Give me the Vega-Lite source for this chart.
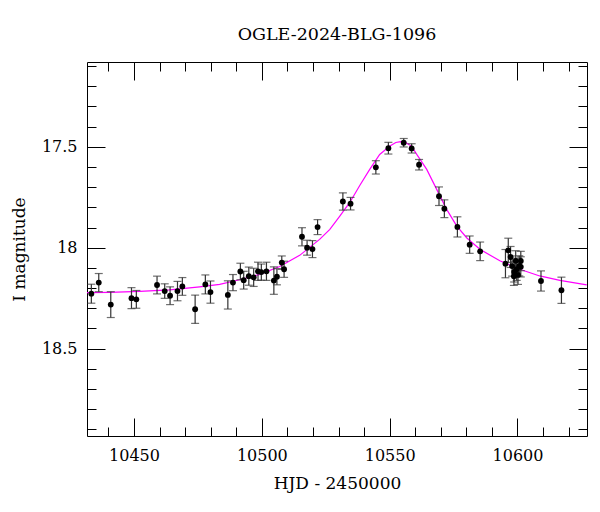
{
  "$schema": "https://vega.github.io/schema/vega-lite/v6.json",
  "autosize": {"type": "none"},
  "padding": {"left": 87, "top": 62, "right": 13, "bottom": 76},
  "width": 500,
  "height": 374,
  "background": "white",
  "config": {
    "view": {"stroke": "black", "strokeWidth": 1},
    "axis": {"grid": false, "domain": false, "tickColor": "black", "tickWidth": 1, "labelColor": "black", "titleColor": "black", "labelFont": "DejaVu Serif", "titleFont": "DejaVu Serif", "labelFontSize": 16, "titleFontSize": 17, "titleFontWeight": "normal", "labelFlush": false, "labelOverlap": false}
  },
  "title": {"text": "OGLE-2024-BLG-1096", "font": "DejaVu Serif", "fontSize": 17.5, "fontWeight": "normal", "color": "black", "frame": "group", "anchor": "middle", "baseline": "alphabetic", "offset": 1},
  "datasets": {
    "obs": [
      {"t": 10433.3, "mag": 18.228, "err": 0.047},
      {"t": 10436.2, "mag": 18.173, "err": 0.045},
      {"t": 10440.9, "mag": 18.282, "err": 0.064},
      {"t": 10449.0, "mag": 18.250, "err": 0.052},
      {"t": 10450.9, "mag": 18.256, "err": 0.044},
      {"t": 10459.0, "mag": 18.185, "err": 0.044},
      {"t": 10462.0, "mag": 18.215, "err": 0.036},
      {"t": 10464.1, "mag": 18.238, "err": 0.044},
      {"t": 10467.0, "mag": 18.215, "err": 0.048},
      {"t": 10468.9, "mag": 18.192, "err": 0.044},
      {"t": 10473.9, "mag": 18.305, "err": 0.070},
      {"t": 10477.9, "mag": 18.182, "err": 0.047},
      {"t": 10479.9, "mag": 18.220, "err": 0.055},
      {"t": 10486.7, "mag": 18.234, "err": 0.070},
      {"t": 10488.7, "mag": 18.173, "err": 0.040},
      {"t": 10491.6, "mag": 18.118, "err": 0.041},
      {"t": 10492.9, "mag": 18.161, "err": 0.044},
      {"t": 10494.9, "mag": 18.141, "err": 0.045},
      {"t": 10496.8, "mag": 18.147, "err": 0.045},
      {"t": 10498.5, "mag": 18.117, "err": 0.045},
      {"t": 10499.8, "mag": 18.121, "err": 0.040},
      {"t": 10501.8, "mag": 18.117, "err": 0.045},
      {"t": 10504.7, "mag": 18.163, "err": 0.068},
      {"t": 10505.9, "mag": 18.144, "err": 0.040},
      {"t": 10507.8, "mag": 18.074, "err": 0.033},
      {"t": 10508.7, "mag": 18.107, "err": 0.040},
      {"t": 10515.7, "mag": 17.946, "err": 0.045},
      {"t": 10517.7, "mag": 18.000, "err": 0.037},
      {"t": 10519.8, "mag": 18.007, "err": 0.042},
      {"t": 10521.8, "mag": 17.898, "err": 0.037},
      {"t": 10531.7, "mag": 17.771, "err": 0.043},
      {"t": 10534.7, "mag": 17.782, "err": 0.031},
      {"t": 10544.6, "mag": 17.602, "err": 0.033},
      {"t": 10549.5, "mag": 17.507, "err": 0.029},
      {"t": 10555.5, "mag": 17.480, "err": 0.021},
      {"t": 10558.6, "mag": 17.508, "err": 0.023},
      {"t": 10561.5, "mag": 17.589, "err": 0.026},
      {"t": 10569.3, "mag": 17.745, "err": 0.046},
      {"t": 10571.4, "mag": 17.807, "err": 0.044},
      {"t": 10576.5, "mag": 17.897, "err": 0.050},
      {"t": 10581.3, "mag": 17.985, "err": 0.043},
      {"t": 10585.4, "mag": 18.018, "err": 0.046},
      {"t": 10595.3, "mag": 18.079, "err": 0.070},
      {"t": 10596.4, "mag": 18.013, "err": 0.060},
      {"t": 10597.3, "mag": 18.046, "err": 0.052},
      {"t": 10597.9, "mag": 18.091, "err": 0.050},
      {"t": 10598.6, "mag": 18.142, "err": 0.045},
      {"t": 10598.7, "mag": 18.120, "err": 0.050},
      {"t": 10599.3, "mag": 18.065, "err": 0.050},
      {"t": 10599.7, "mag": 18.107, "err": 0.055},
      {"t": 10600.2, "mag": 18.135, "err": 0.047},
      {"t": 10600.7, "mag": 18.090, "err": 0.050},
      {"t": 10601.3, "mag": 18.066, "err": 0.048},
      {"t": 10601.3, "mag": 18.095, "err": 0.050},
      {"t": 10609.2, "mag": 18.165, "err": 0.050},
      {"t": 10617.2, "mag": 18.211, "err": 0.065}
    ],
    "model": [
      {"t": 10431.5, "mag": 18.223},
      {"t": 10440.5, "mag": 18.221},
      {"t": 10452.2, "mag": 18.216},
      {"t": 10463.9, "mag": 18.209},
      {"t": 10475.7, "mag": 18.194},
      {"t": 10483.5, "mag": 18.182},
      {"t": 10491.3, "mag": 18.159},
      {"t": 10499.2, "mag": 18.132},
      {"t": 10507.0, "mag": 18.093},
      {"t": 10514.8, "mag": 18.038},
      {"t": 10522.6, "mag": 17.959},
      {"t": 10526.6, "mag": 17.909},
      {"t": 10530.5, "mag": 17.844},
      {"t": 10534.4, "mag": 17.776},
      {"t": 10538.3, "mag": 17.692},
      {"t": 10542.2, "mag": 17.612},
      {"t": 10546.1, "mag": 17.538},
      {"t": 10550.1, "mag": 17.496},
      {"t": 10552.4, "mag": 17.479},
      {"t": 10554.3, "mag": 17.475},
      {"t": 10556.3, "mag": 17.479},
      {"t": 10558.7, "mag": 17.499},
      {"t": 10560.6, "mag": 17.538},
      {"t": 10564.5, "mag": 17.612},
      {"t": 10568.4, "mag": 17.711},
      {"t": 10572.3, "mag": 17.810},
      {"t": 10576.2, "mag": 17.892},
      {"t": 10580.2, "mag": 17.952},
      {"t": 10585.3, "mag": 18.008},
      {"t": 10593.1, "mag": 18.065},
      {"t": 10600.9, "mag": 18.107},
      {"t": 10608.7, "mag": 18.140},
      {"t": 10616.6, "mag": 18.162},
      {"t": 10627.1, "mag": 18.184}
    ]
  },
  "resolve": {"axis": {"x": "independent", "y": "independent"}},
  "layer": [
    {
      "data": {"name": "model"},
      "mark": {"type": "line", "color": "#ff00ff", "strokeWidth": 1.2, "clip": true},
      "encoding": {
        "x": {"field": "t", "type": "quantitative",
          "scale": {"domain": [10431.6, 10627.2], "nice": false, "zero": false},
          "axis": {"orient": "bottom", "values": [10440,10450,10460,10470,10480,10490,10500,10510,10520,10530,10540,10550,10560,10570,10580,10590,10600,10610,10620],
            "labelExpr": "datum.value % 50 === 0 ? format(datum.value, 'd') : ''",
            "tickSize": {"condition": {"test": "datum.value % 50 === 0", "value": -18}, "value": -9},
            "labelPadding": 29, "title": "HJD - 2450000", "titlePadding": 3}},
        "y": {"field": "mag", "type": "quantitative",
          "scale": {"domain": [17.08, 18.933], "reverse": true, "nice": false, "zero": false},
          "axis": {"orient": "left", "values": [17.1,17.2,17.3,17.4,17.5,17.6,17.7,17.8,17.9,18,18.1,18.2,18.3,18.4,18.5,18.6,18.7,18.8,18.9],
            "labelExpr": "abs(datum.value*2 - round(datum.value*2)) < 0.001 ? format(datum.value, '~g') : ''",
            "tickSize": {"condition": {"test": "abs(datum.value*2 - round(datum.value*2)) < 0.001", "value": -18}, "value": -9},
            "labelPadding": 28, "title": "I magnitude", "titlePadding": 13}}
      }
    },
    {
      "data": {"name": "obs"},
      "mark": {"type": "errorbar", "color": "#333333", "thickness": 1.2, "ticks": {"size": 8}},
      "encoding": {
        "x": {"field": "t", "type": "quantitative", "axis": null},
        "y": {"field": "mag", "type": "quantitative", "axis": null},
        "yError": {"field": "err"}
      }
    },
    {
      "data": {"name": "obs"},
      "mark": {"type": "circle", "color": "black", "size": 34, "opacity": 1},
      "encoding": {
        "x": {"field": "t", "type": "quantitative",
          "axis": {"orient": "top", "values": [10440,10450,10460,10470,10480,10490,10500,10510,10520,10530,10540,10550,10560,10570,10580,10590,10600,10610,10620],
            "labels": false, "title": null,
            "tickSize": {"condition": {"test": "datum.value % 50 === 0", "value": -18}, "value": -9}}},
        "y": {"field": "mag", "type": "quantitative",
          "axis": {"orient": "right", "values": [17.1,17.2,17.3,17.4,17.5,17.6,17.7,17.8,17.9,18,18.1,18.2,18.3,18.4,18.5,18.6,18.7,18.8,18.9],
            "labels": false, "title": null,
            "tickSize": {"condition": {"test": "abs(datum.value*2 - round(datum.value*2)) < 0.001", "value": -18}, "value": -9}}}
      }
    }
  ]
}
